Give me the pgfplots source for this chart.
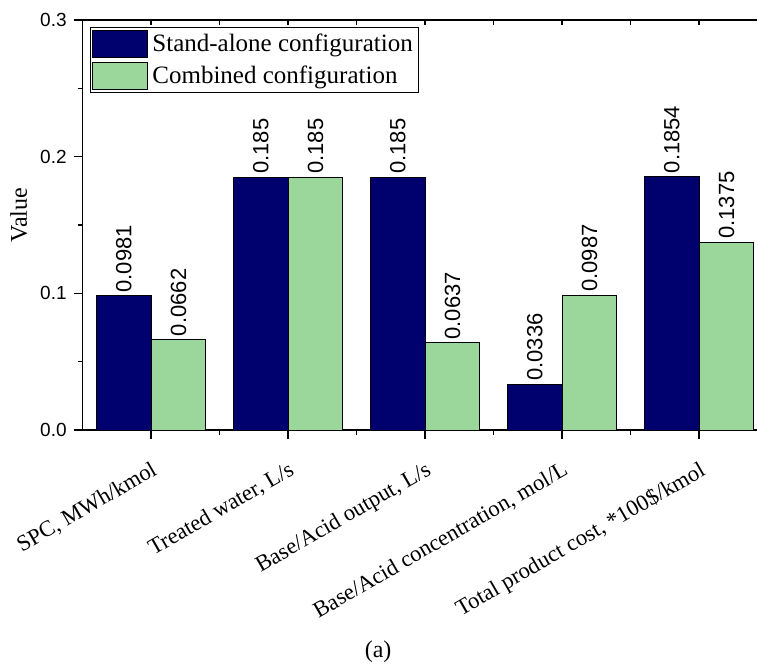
\documentclass[border=0pt]{standalone}
\usepackage{fontspec}
\setmainfont{Liberation Serif}
\newfontfamily\arial{Liberation Sans}
\usepackage{pgfplots}
\pgfplotsset{compat=1.18}
\definecolor{navyb}{RGB}{0,0,110}
\definecolor{lgreen}{RGB}{155,215,155}
\newcommand\tms{\fontsize{12}{14}\selectfont}
\newcommand\lgf{\fontsize{12.5}{14}\selectfont}
\newcommand\xlf{\fontsize{11.3}{13}\selectfont}
\newcommand\tkf{\arial\fontsize{9.5}{11}\selectfont}
\newcommand\blf{\arial\fontsize{11}{13}\selectfont}
\pgfplotsset{
  barleg/.style={legend image code/.code={\draw[##1, line width=0.5pt] (0pt,-6.75pt) rectangle (27.5pt,6.75pt);}}
}
\begin{document}
\begin{tikzpicture}
\useasboundingbox (-41.35pt,-120.5pt) rectangle (337.65pt,215pt);
\begin{axis}[
  at={(0,0)}, anchor=south west,
  scale only axis, width=337pt, height=205pt,
  xmin=-0.5, xmax=4.42, ymin=0, ymax=0.3,
  axis x line=box, axis y line=left,
  axis line style={-, line width=0.8pt},
  ybar, bar width=0.4,
  xtick={0,1,2,3,4}, minor x tick num=1, xtick pos=bottom,
  xticklabels={{SPC, MWh/kmol},{Treated water, L/s},{Base/Acid output, L/s},{Base/Acid concentration, mol/L},{Total product cost, *100\$/kmol}},
  xticklabel style={font=\xlf, rotate=30, anchor=north east, inner sep=1pt},
  xticklabel shift=9pt,
  ytick={0,0.1,0.2,0.3}, minor y tick num=1, ytick pos=left,
  yticklabel style={font=\tkf, /pgf/number format/.cd, fixed, fixed zerofill, precision=1, assume math mode=true},
  tick align=outside, major tick length=4.5pt, minor tick length=2.5pt,
  tick style={line width=0.8pt, black},
  ylabel={Value},
  ylabel style={font=\tms, at={([xshift=-32pt]axis description cs:0,0.524)}, anchor=center},
  legend style={at={(axis description cs:0,1)}, anchor=north west, xshift=3.6pt, yshift=-3.5pt,
    font=\lgf, draw=black, line width=0.5pt, inner sep=1pt, row sep=2pt,
    cells={anchor=west}},
  point meta=explicit symbolic,
  nodes near coords,
  every node near coord/.append style={font=\blf, rotate=90, anchor=west, inner sep=1.5pt, black},
]
\addplot[fill=navyb, draw=black, line width=0.5pt, bar shift=-0.2, barleg]
  coordinates {(0,0.0981)[0.0981] (1,0.185)[0.185] (2,0.185)[0.185] (3,0.0336)[0.0336] (4,0.1854)[0.1854]};
\addlegendentry{Stand-alone configuration}
\addplot[fill=lgreen, draw=black, line width=0.5pt, bar shift=0.2, barleg]
  coordinates {(0,0.0662)[0.0662] (1,0.185)[0.185] (2,0.0637)[0.0637] (3,0.0987)[0.0987] (4,0.1375)[0.1375]};
\addlegendentry{Combined configuration}
\end{axis}
\begin{axis}[
  at={(0,0)}, anchor=south west,
  scale only axis, width=337pt, height=205pt,
  xmin=-0.5, xmax=4.42, ymin=0, ymax=0.3,
  axis x line*=top, hide y axis,
  axis line style={-, line width=0.8pt},
  xtick={0,1,2,3,4}, minor x tick num=1, xticklabels={},
  tick align=inside, major tick length=2.5pt, minor tick length=2.5pt,
  tick style={line width=0.8pt, black},
]
\addplot[draw=none] coordinates {(0,0)};
\end{axis}
\node[font=\tms] at (147.7pt,-111pt) {(a)};
\end{tikzpicture}
\end{document}
